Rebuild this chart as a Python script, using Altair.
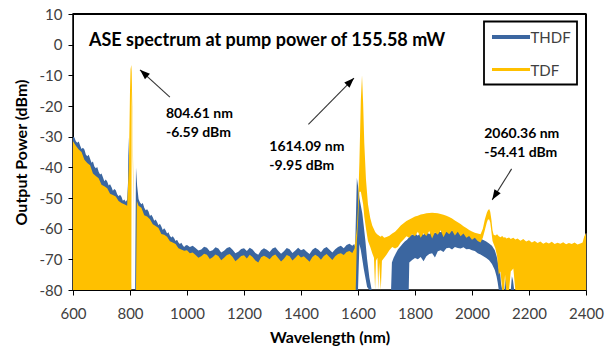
import altair as alt
import pandas as pd

BLUE = "#3b66a0"
GOLD = "#ffc000"
FONT = "Lato"

X_TICKS = [600, 800, 1000, 1200, 1400, 1600, 1800, 2000, 2200, 2400]
Y_TICKS = [10, 0, -10, -20, -30, -40, -50, -60, -70, -80]

# ---------------- THDF trace (upper / lower envelope of the noisy OSA trace) ----------------
THDF_NM = [
    600, 605, 610, 615, 620, 625, 630, 635, 640, 645,
    650, 655, 660, 665, 670, 675, 680, 685, 690, 695,
    700, 705, 710, 715, 720, 725, 730, 735, 740, 745,
    750, 755, 760, 765, 770, 775, 780, 785, 790,
    793, 795, 797, 800, 804, 814, 818, 821, 825,
    830, 835, 840, 845, 850, 855, 860, 865, 870, 875,
    880, 885, 890, 895, 900, 905, 910, 915, 920, 925,
    930, 935, 940, 945, 950, 955, 960, 965, 970, 975,
    980, 985, 990, 995, 1000,
    1010, 1020, 1030, 1040, 1050, 1060, 1070, 1080, 1090, 1100,
    1110, 1120, 1130, 1140, 1150, 1160, 1170, 1180, 1190, 1200,
    1210, 1220, 1230, 1240, 1250, 1260, 1270, 1280, 1290, 1300,
    1310, 1320, 1330, 1340, 1350, 1360, 1370, 1380, 1390, 1400,
    1410, 1420, 1430, 1440, 1450, 1460, 1470, 1480, 1490, 1500,
    1510, 1520, 1530, 1540, 1550, 1560, 1570, 1580, 1587,
    1590, 1593, 1596, 1600, 1605, 1610, 1615, 1620, 1626, 1632, 1640, 1648,
    1716, 1719, 1725, 1732, 1740, 1748, 1756, 1764, 1772, 1778, 1780,
    1790, 1800, 1810, 1820, 1830, 1840, 1850, 1860, 1870, 1880,
    1890, 1900, 1910, 1920, 1930, 1940, 1950, 1960, 1970, 1980,
    1990, 2000, 2010, 2020, 2030, 2040, 2050, 2060, 2070, 2080,
    2086, 2090, 2094, 2098, 2102, 2106, 2114, 2117, 2120, 2136,
    2140, 2144, 2148, 2400,
]
THDF_HI = [
    -30.0, -30.3, -31.5, -32.0, -31.6, -32.9, -34.0, -33.6, -34.2, -35.8,
    -36.4, -35.9, -37.2, -38.5, -38.1, -39.7, -40.3, -39.9, -41.4, -42.3,
    -42.0, -43.2, -44.5, -44.0, -44.6, -45.9, -45.5, -46.4, -47.6, -47.1,
    -47.5, -48.8, -49.4, -48.9, -49.6, -50.9, -50.5, -51.2, -50.6,
    -45.0, -30.0, -38.0, -55.0, -80.0, -80.0, -80.0, -40.0, -46.0,
    -50.3, -51.5, -52.0, -51.6, -53.2, -54.0, -53.7, -54.4, -55.9, -55.5,
    -56.3, -57.4, -57.0, -57.8, -58.9, -58.4, -59.3, -60.4, -59.9, -60.5,
    -61.6, -61.2, -62.3, -62.9, -62.5, -63.1, -64.0, -63.6, -64.5, -65.0,
    -64.6, -65.4, -66.0, -65.5, -65.3,
    -66.0, -65.6, -66.3, -67.1, -66.8, -65.9, -66.2, -67.4, -67.0, -66.1,
    -66.5, -67.8, -67.2, -66.3, -66.0, -66.9, -68.0, -67.5, -66.6, -66.4,
    -67.3, -66.2, -66.8, -67.9, -68.5, -67.0, -66.4, -66.9, -67.6, -66.5,
    -66.1, -67.2, -68.2, -67.4, -66.3, -66.7, -67.9, -67.1, -66.2, -67.0,
    -66.6, -67.5, -68.3, -66.9, -66.2, -66.8, -67.7, -66.5, -66.0, -66.9,
    -67.8, -66.7, -66.0, -65.6, -66.4, -65.3, -64.9, -65.6, -65.0,
    -66.0, -55.0, -43.5, -46.0, -50.0, -52.5, -55.0, -59.0, -64.0, -70.0, -76.0, -80.0,
    -80.0, -71.0, -69.5, -68.2, -66.8, -65.9, -65.0, -64.2, -63.6, -63.0, -62.5,
    -62.0, -61.5, -62.3, -61.2, -62.0, -61.0, -61.8, -60.8, -61.5, -60.6,
    -61.2, -60.4, -61.0, -60.3, -60.8, -60.2, -60.6, -60.4, -61.0, -61.3,
    -61.8, -62.0, -62.6, -62.9, -63.3, -63.7, -64.2, -64.8, -65.6, -67.0,
    -68.8, -70.5, -73.0, -73.5, -78.0, -80.0, -80.0, -76.0, -80.0, -80.0,
    -75.5, -77.0, -80.0, -80.0,
]
THDF_LO = [
    -80, -80, -80, -80, -80, -80, -80, -80, -80, -80,
    -80, -80, -80, -80, -80, -80, -80, -80, -80, -80,
    -80, -80, -80, -80, -80, -80, -80, -80, -80, -80,
    -80, -80, -80, -80, -80, -80, -80, -80, -80,
    -80, -80, -80, -80, -80, -80, -80, -80, -80,
    -80, -80, -80, -80, -80, -80, -80, -80, -80, -80,
    -80, -80, -80, -80, -80, -80, -80, -80, -80, -80,
    -80, -80, -80, -80, -80, -80, -80, -80, -80, -80,
    -80, -80, -80, -80, -80,
    -80, -80, -80, -80, -80, -80, -80, -80, -80, -80,
    -80, -80, -80, -80, -80, -80, -80, -80, -80, -80,
    -80, -80, -80, -80, -80, -80, -80, -80, -80, -80,
    -80, -80, -80, -80, -80, -80, -80, -80, -80, -80,
    -80, -80, -80, -80, -80, -80, -80, -80, -80, -80,
    -80, -80, -80, -80, -80, -80, -80, -80, -80,
    -80, -80, -80, -80, -65, -67, -70, -73, -76, -79, -80, -80,
    -80, -80, -80, -80, -80, -80, -80, -80, -80, -80, -71.0,
    -70.2, -69.6, -70.0, -69.2, -70.6, -69.0, -68.3, -68.0, -69.4, -67.4,
    -67.0, -67.6, -66.4, -66.2, -66.8, -66.0, -66.3, -66.5, -66.1, -66.7,
    -66.6, -67.0, -67.3, -68.0, -68.4, -69.0, -69.6, -70.3, -71.5, -73.5,
    -75.5, -77.5, -80, -80, -80, -80, -80, -80, -80, -80,
    -80, -80, -80, -80,
]

# ---------------- TDF trace ----------------
TDF_NM = [
    600, 610, 620, 630, 640, 650, 660, 670, 680, 690,
    700, 710, 720, 730, 740, 750, 760, 770, 780, 790,
    796, 800, 802, 804.61, 806, 808, 810, 812, 814, 821, 824,
    830, 840, 850, 860, 870, 880, 890, 900, 910, 920,
    930, 940, 950, 960, 970, 980, 990, 1000,
    1010, 1020, 1030, 1040, 1050, 1060, 1070, 1080, 1090, 1100,
    1110, 1120, 1130, 1140, 1150, 1160, 1170, 1180, 1190, 1200,
    1210, 1220, 1230, 1240, 1250, 1260, 1270, 1280, 1290, 1300,
    1310, 1320, 1330, 1340, 1350, 1360, 1370, 1380, 1390, 1400,
    1410, 1420, 1430, 1440, 1450, 1460, 1470, 1480, 1490, 1500,
    1510, 1520, 1530, 1540, 1550, 1560, 1570, 1580, 1588,
    1592, 1596, 1600, 1605, 1610, 1614.09, 1618, 1622, 1628, 1635,
    1643, 1650, 1656, 1660, 1663, 1668, 1671, 1674, 1680, 1684,
    1692, 1700, 1710, 1720, 1730, 1740, 1750, 1760, 1770, 1780,
    1790, 1800, 1810, 1820, 1830, 1840, 1850, 1860, 1870, 1880,
    1890, 1900, 1910, 1920, 1930, 1940, 1950, 1960, 1970, 1980,
    1990, 2000, 2010, 2020, 2030, 2038, 2045, 2052, 2056, 2060.36,
    2064, 2068, 2072, 2076, 2082, 2088, 2094, 2100, 2106, 2112,
    2116, 2120, 2130, 2136, 2145, 2152, 2160, 2170, 2180, 2190,
    2200, 2210, 2220, 2230, 2240, 2250, 2260, 2270, 2280, 2290,
    2300, 2310, 2320, 2330, 2340, 2350, 2360, 2370, 2380, 2388,
    2394, 2400,
]
TDF_HI = [
    -31.5, -33.0, -34.2, -35.0, -37.5, -38.6, -39.3, -42.0, -42.8, -43.6,
    -45.7, -46.2, -46.8, -48.6, -49.0, -49.5, -51.0, -51.6, -52.0, -52.5,
    -40.0, -15.0, -8.0, -6.59, -9.0, -20.0, -33.0, -45.0, -80.0, -80.0, -51.0,
    -52.5, -53.2, -55.6, -56.0, -56.9, -58.6, -59.1, -59.8, -61.7, -62.0,
    -62.6, -64.1, -64.5, -65.0, -66.4, -66.8, -67.2, -67.0,
    -68.0, -67.8, -68.6, -69.5, -69.0, -68.2, -68.5, -69.9, -69.3, -68.4,
    -68.9, -70.3, -69.5, -68.6, -68.3, -69.2, -70.6, -69.8, -68.9, -68.7,
    -69.7, -68.5, -69.2, -70.4, -71.0, -69.3, -68.8, -69.3, -70.0, -68.9,
    -68.4, -69.6, -70.7, -69.8, -68.6, -69.0, -70.4, -69.5, -68.5, -69.4,
    -69.0, -69.9, -70.8, -69.2, -68.5, -69.1, -70.1, -68.9, -68.3, -69.2,
    -70.2, -69.0, -68.3, -68.0, -68.6, -67.6, -67.3, -67.9, -66.5,
    -63.0, -60.0, -53.0, -38.0, -18.0, -9.95, -19.0, -32.0, -44.0, -52.0,
    -56.5, -59.0, -60.2, -61.0, -61.4, -61.9, -62.1, -62.3, -62.6, -62.2,
    -63.0, -62.7, -62.3, -61.6, -61.0, -60.0, -59.0, -58.2, -57.5, -57.0,
    -56.5, -56.0, -55.8, -55.4, -55.2, -55.0, -54.9, -54.8, -54.9, -55.0,
    -55.2, -55.5, -55.8, -56.2, -56.7, -57.3, -57.9, -58.5, -59.2, -59.8,
    -60.4, -60.9, -61.3, -61.6, -61.8, -60.0, -57.0, -54.8, -54.0, -53.6,
    -54.5, -57.0, -60.5, -62.0, -62.2, -61.8, -62.5, -62.8, -62.4, -63.0,
    -62.7, -63.2, -62.9, -63.4, -63.0, -63.5, -63.2, -63.9, -63.4, -64.2,
    -63.8, -64.5, -64.0, -64.7, -64.2, -64.9, -64.4, -64.8, -64.3, -65.0,
    -64.6, -64.9, -64.4, -65.1, -64.7, -65.0, -64.5, -65.2, -64.8, -64.5,
    -62.5, -61.5,
]
TDF_LO = [
    -80, -80, -80, -80, -80, -80, -80, -80, -80, -80,
    -80, -80, -80, -80, -80, -80, -80, -80, -80, -80,
    -80, -80, -80, -80, -14, -26, -40, -52, -80, -80, -80,
    -80, -80, -80, -80, -80, -80, -80, -80, -80, -80,
    -80, -80, -80, -80, -80, -80, -80, -80,
    -80, -80, -80, -80, -80, -80, -80, -80, -80, -80,
    -80, -80, -80, -80, -80, -80, -80, -80, -80, -80,
    -80, -80, -80, -80, -80, -80, -80, -80, -80, -80,
    -80, -80, -80, -80, -80, -80, -80, -80, -80, -80,
    -80, -80, -80, -80, -80, -80, -80, -80, -80, -80,
    -80, -80, -80, -80, -80, -80, -80, -80, -80,
    -80, -64, -58, -48, -48, -50, -52, -56, -60, -64,
    -66, -68, -69.5, -80, -70.5, -69.5, -80, -71, -80, -70.5,
    -69.5, -68.5, -67.0, -66.0, -66.5, -66.0, -64.5, -63.5, -62.5, -63.0,
    -61.8, -62.5, -61.0, -63.0, -61.5, -62.4, -60.8, -63.2, -61.2, -62.0,
    -60.5, -62.8, -61.0, -61.8, -60.6, -62.2, -61.0, -62.5, -61.6, -63.0,
    -62.4, -63.6, -63.0, -64.0, -64.5, -63.0, -60.5, -58.0, -57.0, -57.0,
    -58.0, -61.0, -64.0, -65.0, -66.5, -69.0, -75.0, -74.0, -80, -80,
    -75, -80, -80, -74, -73, -80, -80, -80, -80, -80,
    -80, -80, -80, -80, -80, -80, -80, -80, -80, -80,
    -80, -80, -80, -80, -80, -80, -80, -80, -80, -80,
    -80, -80,
]

# ---------------- annotations ----------------
TITLE = "ASE spectrum at pump power of 155.58 mW"
ANN_TEXT = ["804.61 nm", "-6.59 dBm", "1614.09 nm", "-9.95 dBm", "2060.36 nm", "-54.41 dBm"]
ANN_NM = [926, 926, 1289, 1289, 2043, 2043]
ANN_DB = [-23.9, -30.1, -34.8, -40.9, -30.4, -36.6]

ARROW_TAIL_NM = [940, 1426, 2139]
ARROW_TAIL_DB = [-17.1, -26.0, -40.5]
ARROW_TIP_NM = [835, 1586, 2071]
ARROW_TIP_DB = [-8.2, -10.9, -50.6]
ARROW_ANGLE = [312, 45, 212]

# plot-area frame (top edge, and right edge above the TDF floor)
FRAME_NM0 = [600, 2400]
FRAME_DB0 = [10, 10]
FRAME_NM1 = [2400, 2400]
FRAME_DB1 = [10, -61.5]

LEGEND_NAMES = ["THDF", "TDF"]

thdf = pd.DataFrame({"nm": THDF_NM, "hi": THDF_HI, "lo": THDF_LO})
tdf = pd.DataFrame({"nm": TDF_NM, "hi": TDF_HI, "lo": TDF_LO})
ann = pd.DataFrame({"nm": ANN_NM, "hi": ANN_DB, "text": ANN_TEXT})
arrows = pd.DataFrame({
    "nm": ARROW_TAIL_NM, "hi": ARROW_TAIL_DB,
    "nm1": ARROW_TIP_NM, "db1": ARROW_TIP_DB, "ang": ARROW_ANGLE,
})
heads = pd.DataFrame({"nm": ARROW_TIP_NM, "hi": ARROW_TIP_DB, "ang": ARROW_ANGLE})
frame_df = pd.DataFrame({"nm": FRAME_NM0, "hi": FRAME_DB0, "nm1": FRAME_NM1, "db1": FRAME_DB1})

xscale = alt.Scale(domain=[600, 2400], nice=False, zero=False)
yscale = alt.Scale(domain=[-80, 10], nice=False, zero=False)

xaxis = alt.Axis(
    values=X_TICKS, format="d", title="Wavelength (nm)", tickSize=5,
    labelPadding=11, labelFontSize=15, labelColor="#404040", labelFlush=False,
    labelOverlap=False, titleFontSize=16, titleFontWeight="bold", titleColor="black",
    titlePadding=8, domainColor="black", tickColor="black", grid=False,
)
yaxis = alt.Axis(
    values=Y_TICKS, title="Output Power (dBm)", tickSize=5,
    labelExpr="datum.value < 0 ? datum.value + '' : datum.value + '\u2005'",
    labelPadding=6, labelFontSize=15, labelColor="#404040", labelFlush=False,
    labelOverlap=False, titleFontSize=16, titleFontWeight="bold", titleColor="black",
    titlePadding=10, domainColor="black", tickColor="black", grid=False,
)

X = alt.X("nm:Q", scale=xscale, axis=xaxis)
Y = alt.Y("hi:Q", scale=yscale, axis=yaxis)

one = alt.Data(values=[{}])

blue = alt.Chart(thdf).mark_area(color=BLUE).encode(x=X, y=Y, y2="lo:Q")
gold = alt.Chart(tdf).mark_area(color=GOLD).encode(x=X, y=Y, y2="lo:Q")

labels = alt.Chart(ann).mark_text(
    align="left", baseline="alphabetic", font=FONT, fontSize=14, fontWeight="bold", color="black"
).encode(x=X, y=Y, text="text:N")

arrow_lines = alt.Chart(arrows).mark_rule(color="#333333", strokeWidth=1.1).encode(
    x=X, y=Y, x2="nm1:Q", y2="db1:Q",
)
arrow_heads = alt.Chart(heads).mark_point(
    shape="M0,0L-0.55,1.5L0.55,1.5Z", size=180, filled=True, color="black", opacity=1
).encode(x=X, y=Y, angle=alt.Angle("ang:Q", scale=None))

frame = alt.Chart(frame_df).mark_rule(color="#000000", strokeWidth=2, opacity=1).encode(
    x=X, y=Y, x2="nm1:Q", y2="db1:Q",
)

title = alt.Chart(one).mark_text(
    text=TITLE, align="left", baseline="alphabetic", font=FONT, fontSize=18,
    fontWeight="bold", color="black",
).encode(x=alt.value(16), y=alt.value(31.5))

legend_box = alt.Chart(one).mark_rect(fill="white", stroke="black", strokeWidth=1.8).encode(
    x=alt.value(411), x2=alt.value(504), y=alt.value(7.5), y2=alt.value(70.5)
)
leg_line1 = alt.Chart(one).mark_rule(color=BLUE, strokeWidth=4).encode(
    x=alt.value(419), x2=alt.value(457), y=alt.value(23)
)
leg_line2 = alt.Chart(one).mark_rule(color=GOLD, strokeWidth=3).encode(
    x=alt.value(419), x2=alt.value(457), y=alt.value(55.5)
)
leg_text1 = alt.Chart(one).mark_text(
    text=LEGEND_NAMES[0], align="left", baseline="alphabetic", font=FONT, fontSize=15, color="#404040"
).encode(x=alt.value(457.5), y=alt.value(29))
leg_text2 = alt.Chart(one).mark_text(
    text=LEGEND_NAMES[1], align="left", baseline="alphabetic", font=FONT, fontSize=15, color="#404040"
).encode(x=alt.value(457.5), y=alt.value(61.5))

chart = alt.layer(
    blue, gold, arrow_lines, arrow_heads, labels, title,
    legend_box, leg_line1, leg_line2, leg_text1, leg_text2, frame,
).properties(
    width=513, height=276,
    padding={"left": 73, "top": 14, "right": 20, "bottom": 61},
    autosize=alt.AutoSizeParams(type="none"),
).configure(font=FONT).configure_view(stroke="black", strokeWidth=1.5)

chart.save("out.html", embed_options={"renderer": "svg", "actions": False})
